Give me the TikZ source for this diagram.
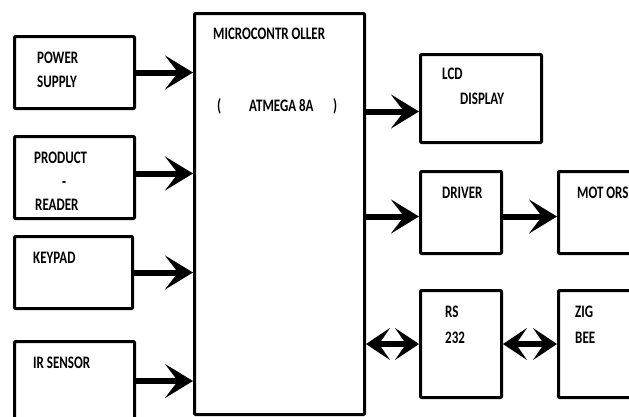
\documentclass[tikz,border=0pt]{standalone}
\usepackage{fontspec}
\setmainfont{Carlito}
\usetikzlibrary{arrows.meta,positioning}

\newcommand{\tall}[1]{\scalebox{1}[1.35]{#1}}

\tikzset{
  blk/.style={draw, line width=3pt, rounded corners=1pt, anchor=north west, inner sep=0pt},
  lbl/.style={anchor=base west, inner sep=0pt, font=\fontsize{13}{15}\selectfont\bfseries},
  fat/.style={line width=6pt, -{Stealth[length=28pt,width=34pt,inset=13pt]}},
  fatboth/.style={line width=6pt, {Stealth[length=24pt,width=32pt,inset=11pt]}-{Stealth[length=24pt,width=32pt,inset=11pt]}}
}

\begin{document}
\begin{tikzpicture}[x=1pt,y=-1pt]
        \useasboundingbox (0,0) rectangle (629,416);
        % Input blocks
        \node[blk, minimum width=120pt, minimum height=72pt] (psu) at (13,35) {};
        \node[blk, minimum width=120pt, minimum height=82pt] (prod) at (13,135) {};
        \node[blk, minimum width=118pt, minimum height=72pt] (kpd) at (13,235) {};
        \node[blk, minimum width=120pt, minimum height=85pt] (irs) at (13,340) {};
        % Controller
        \node[blk, minimum width=170pt, minimum height=401pt] (mcu) at (193,12) {};
        % Output blocks
        \node[blk, minimum width=121pt, minimum height=88pt] (lcd) at (419,53) {};
        \node[blk, minimum width=81pt, minimum height=82pt] (drv) at (419,170) {};
        \node[blk, minimum width=80pt, minimum height=82pt] (mot) at (557,170) {};
        \node[blk, minimum width=81pt, minimum height=107pt] (rs) at (419,289) {};
        \node[blk, minimum width=80pt, minimum height=107pt] (zig) at (557,289) {};
        % Labels
        \node[lbl] (tpow) at (37,63) {\tall{POWER}};
        \node[lbl] (tsup) at (37,87) {\tall{SUPPLY}};
        \node[lbl] (tprod) at (34,163) {\tall{PRODUCT}};
        \node[lbl] (tdash) at (62,187) {\tall{-}};
        \node[lbl] (tread) at (35,210) {\tall{READER}};
        \node[lbl] (tkpd) at (33,263) {\tall{KEYPAD}};
        \node[lbl] (tirs) at (33,368) {\tall{IR SENSOR}};
        \node[lbl] (tmcu) at (213,39) {\tall{MICROCONTR OLLER}};
        \node[lbl] (tpl) at (217,111) {\tall{(}};
        \node[lbl] (tatm) at (249,111) {\tall{ATMEGA 8A}};
        \node[lbl] (tpr) at (333,111) {\tall{)}};
        \node[lbl] (tlcd) at (442,79) {\tall{LCD}};
        \node[lbl] (tdisp) at (460,104) {\tall{DISPLAY}};
        \node[lbl] (tdrv) at (442,198) {\tall{DRIVER}};
        \node[lbl] (tmot) at (577,198) {\tall{MOT ORS}};
        \node[lbl] (trs) at (445,317) {\tall{RS}};
        \node[lbl] (t232) at (445,343) {\tall{232}};
        \node[lbl] (tzig) at (575,317) {\tall{ZIG}};
        \node[lbl] (tbee) at (575,343) {\tall{BEE}};
        % Arrows in
        \draw[fat] (psu.east) -- (psu.east -| mcu.west);
        \draw[fat] ([yshift=4pt]prod.east) -- ([yshift=4pt]prod.east -| mcu.west);
        \draw[fat] (kpd.east) -- (kpd.east -| mcu.west);
        \draw[fat] ([yshift=3pt]irs.east) -- ([yshift=3pt]irs.east -| mcu.west);
        % Arrows out
        \draw[fat] ([yshift=-13pt]lcd.west -| mcu.east) -- ([yshift=-13pt]lcd.west);
        \draw[fat] ([yshift=-4pt]drv.west -| mcu.east) -- ([yshift=-4pt]drv.west);
        \draw[fat] ([yshift=-4pt]drv.east) -- ([yshift=-4pt]mot.west);
        \draw[fatboth] (rs.west -| mcu.east) -- (rs.west);
        \draw[fatboth] (rs.east) -- (zig.west);
      \end{tikzpicture}
\end{document}
